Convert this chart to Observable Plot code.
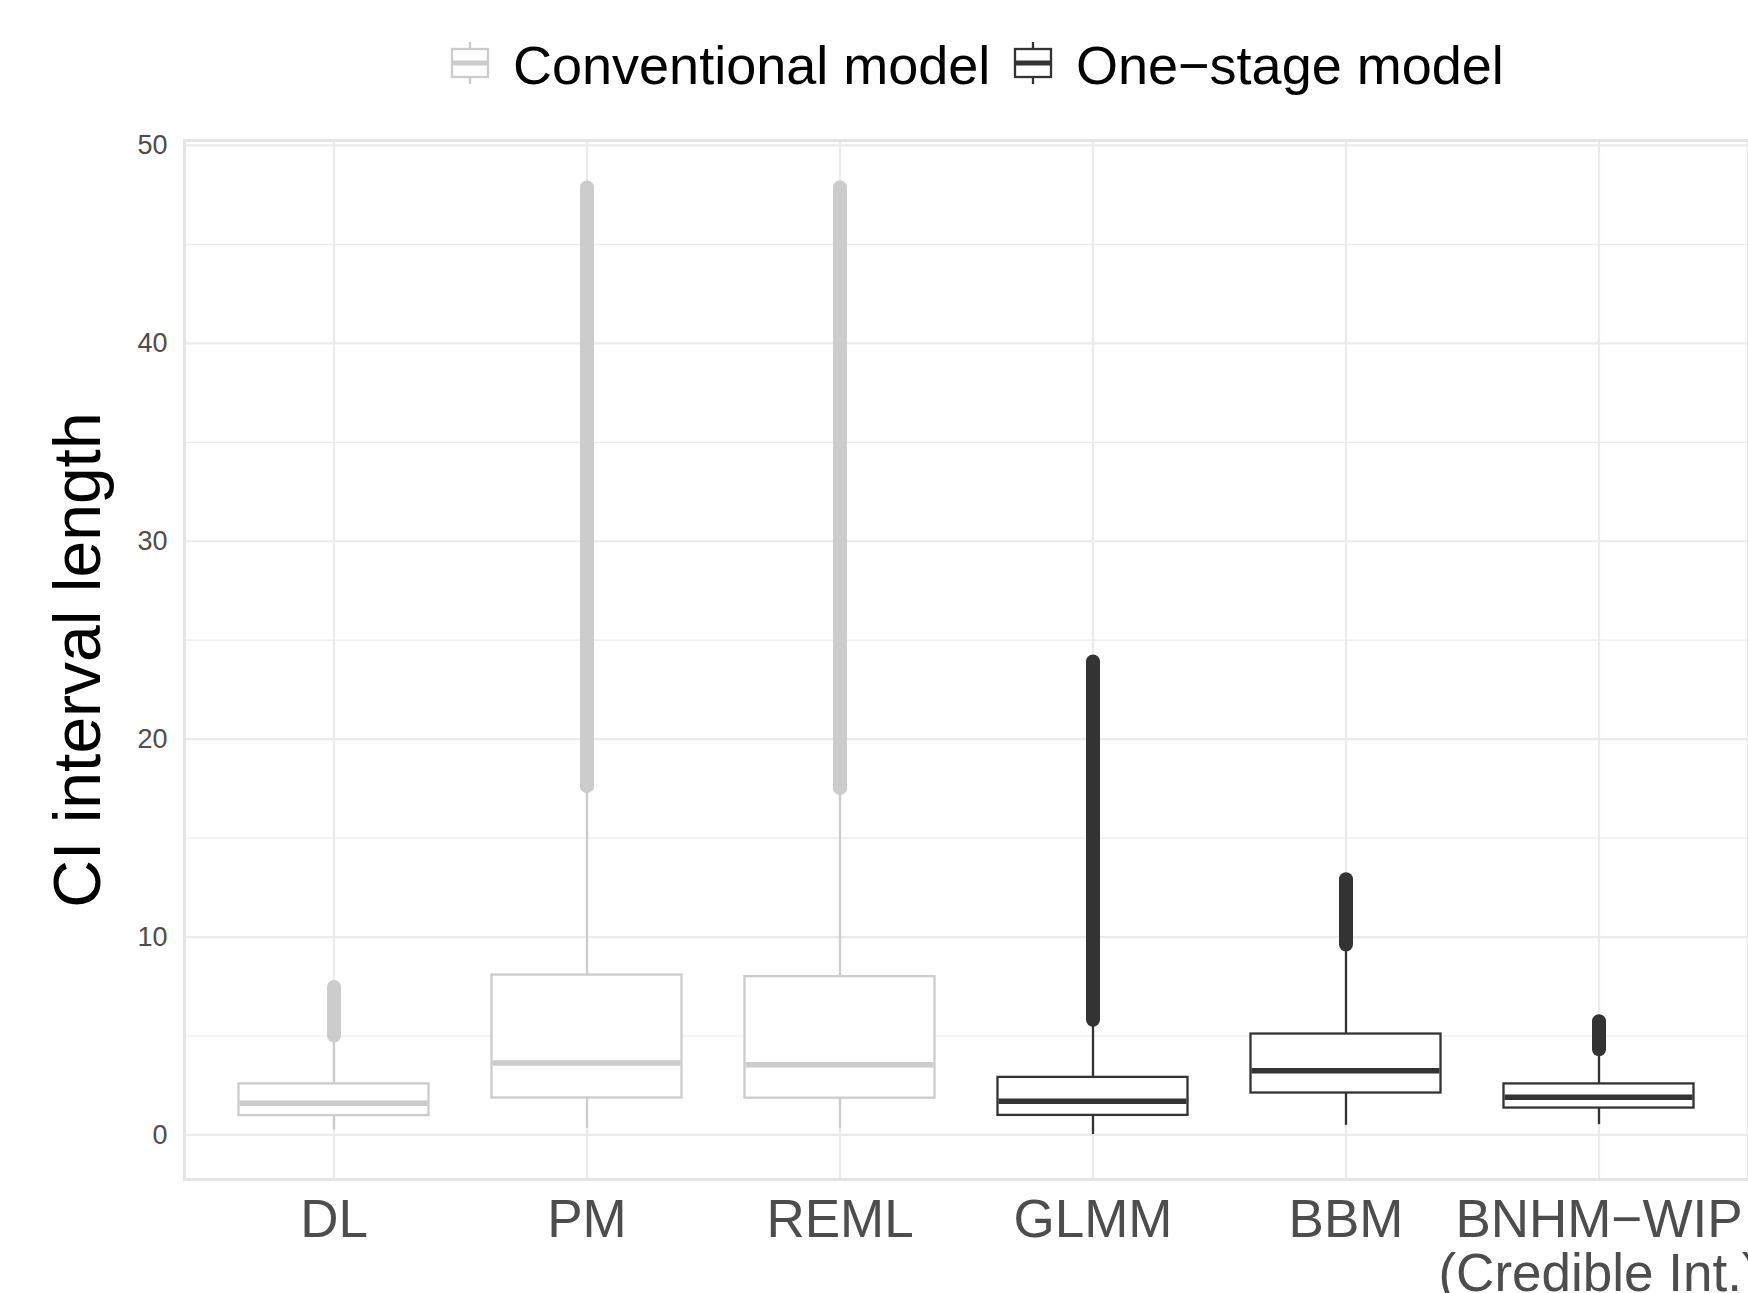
<!DOCTYPE html>
<html><head><meta charset="utf-8">
<script src="https://cdn.jsdelivr.net/npm/d3@7"></script>
<script src="https://cdn.jsdelivr.net/npm/@observablehq/plot@0.6"></script>
<style>
body{margin:0;background:#fff;font-family:"Liberation Sans",Arial,Helvetica,sans-serif;overflow:hidden;}
#legend{position:relative;height:100px;width:1748px;}
#legend .key{position:absolute;top:42px;}
#legend .lab{position:absolute;top:38px;font-size:54px;line-height:54px;color:#000;white-space:nowrap;}
#chart svg{display:block;}
</style></head>
<body>
<div id="legend"></div>
<div id="chart"></div>
<script>
// ---- data ----
const categories = ["DL", "PM", "REML", "GLMM", "BBM", "BNHM−WIP\n(Credible Int.)"];
const groups = ["Conventional model", "Conventional model", "Conventional model", "One−stage model", "One−stage model", "One−stage model"];
const whiskerLow  = [0.25, 0.34, 0.34, 0.02, 0.49, 0.52];
const q1          = [0.98, 1.87, 1.86, 0.99, 2.12, 1.36];
const median      = [1.60, 3.64, 3.55, 1.70, 3.25, 1.90];
const q3          = [2.58, 8.08, 8.00, 2.91, 5.10, 2.58];
const whiskerHigh = [4.90, 17.3, 17.2, 5.75, 9.50, 4.20];
const outlierMin  = [5.00, 17.6, 17.5, 5.80, 9.60, 4.30];
const outlierMax  = [7.45, 47.85, 47.85, 23.9, 12.9, 5.72];
const legendGroups = ["Conventional model", "One−stage model"];
const groupColors = ["#CCCCCC", "#333333"];
const yMajor = [0, 10, 20, 30, 40, 50];
const yMinor = [5, 15, 25, 35, 45];
const yTitle = "CI interval length";

const rows = categories.map((c, i) => ({
  cat: c, group: groups[i], lo: whiskerLow[i], q1: q1[i], med: median[i],
  q3: q3[i], hi: whiskerHigh[i], omin: outlierMin[i], omax: outlierMax[i]
}));

// ---- legend ----
const legend = d3.select("#legend");
const legendPos = [{key: 449, lab: 513}, {key: 1012, lab: 1076}];
legendGroups.forEach((g, i) => {
  const col = groupColors[i];
  const svg = legend.append("svg").attr("class", "key")
    .attr("width", 42).attr("height", 42)
    .style("left", legendPos[i].key + "px");
  svg.append("line").attr("x1", 21).attr("x2", 21).attr("y1", 0).attr("y2", 42)
    .attr("stroke", col).attr("stroke-width", 2.3);
  svg.append("rect").attr("x", 3).attr("y", 7).attr("width", 36).attr("height", 28)
    .attr("fill", "white").attr("stroke", col).attr("stroke-width", 2.3);
  svg.append("line").attr("x1", 3).attr("x2", 39).attr("y1", 21).attr("y2", 21)
    .attr("stroke", col).attr("stroke-width", 5);
  legend.append("div").attr("class", "lab").style("left", legendPos[i].lab + "px").text(g);
});

// ---- chart ----
const inset = 31.5;
const chart = Plot.plot({
  width: 1748,
  height: 1193,
  marginLeft: 184,
  marginRight: 0,
  marginTop: 40,
  marginBottom: 114,
  style: {fontFamily: '"Liberation Sans", Arial, Helvetica, sans-serif', background: "white"},
  x: {type: "band", domain: categories, paddingInner: 0, paddingOuter: 0.09},
  y: {domain: [-2.25, 50.25]},
  color: {domain: legendGroups, range: groupColors},
  marks: [
    Plot.ruleY(yMinor, {stroke: "#EBEBEB", strokeWidth: 1.2}),
    Plot.ruleY(yMajor, {stroke: "#EBEBEB", strokeWidth: 2.2}),
    Plot.ruleX(categories, {x: d => d, stroke: "#EBEBEB", strokeWidth: 2.2}),
    Plot.frame({stroke: "#E5E5E5", strokeWidth: 3}),
    Plot.ruleX(rows, {x: "cat", y1: "lo", y2: "q1", stroke: "group", strokeWidth: 2.3}),
    Plot.ruleX(rows, {x: "cat", y1: "q3", y2: "hi", stroke: "group", strokeWidth: 2.3}),
    Plot.ruleX(rows, {x: "cat", y1: "omin", y2: "omax", stroke: "group", strokeWidth: 14, strokeLinecap: "round"}),
    Plot.barY(rows, {x: "cat", y1: "q1", y2: "q3", fill: "white", stroke: "group", strokeWidth: 2.3, insetLeft: inset, insetRight: inset}),
    Plot.tickY(rows, {x: "cat", y: "med", stroke: "group", strokeWidth: 5.5, insetLeft: inset + 1, insetRight: inset + 1}),
    Plot.axisY({ticks: yMajor, tickSize: 0, tickPadding: 17, fontSize: 27, color: "#4D4D4D", label: null}),
    Plot.axisX({tickSize: 0, tickPadding: 19, fontSize: 53, color: "#4D4D4D", label: null, lineHeight: 1.02}),
    Plot.text([yTitle], {frameAnchor: "left", textAnchor: "middle", dx: -106, rotate: -90, fontSize: 66, fill: "black"})
  ]
});
document.getElementById("chart").appendChild(chart);
</script>
</body></html>
